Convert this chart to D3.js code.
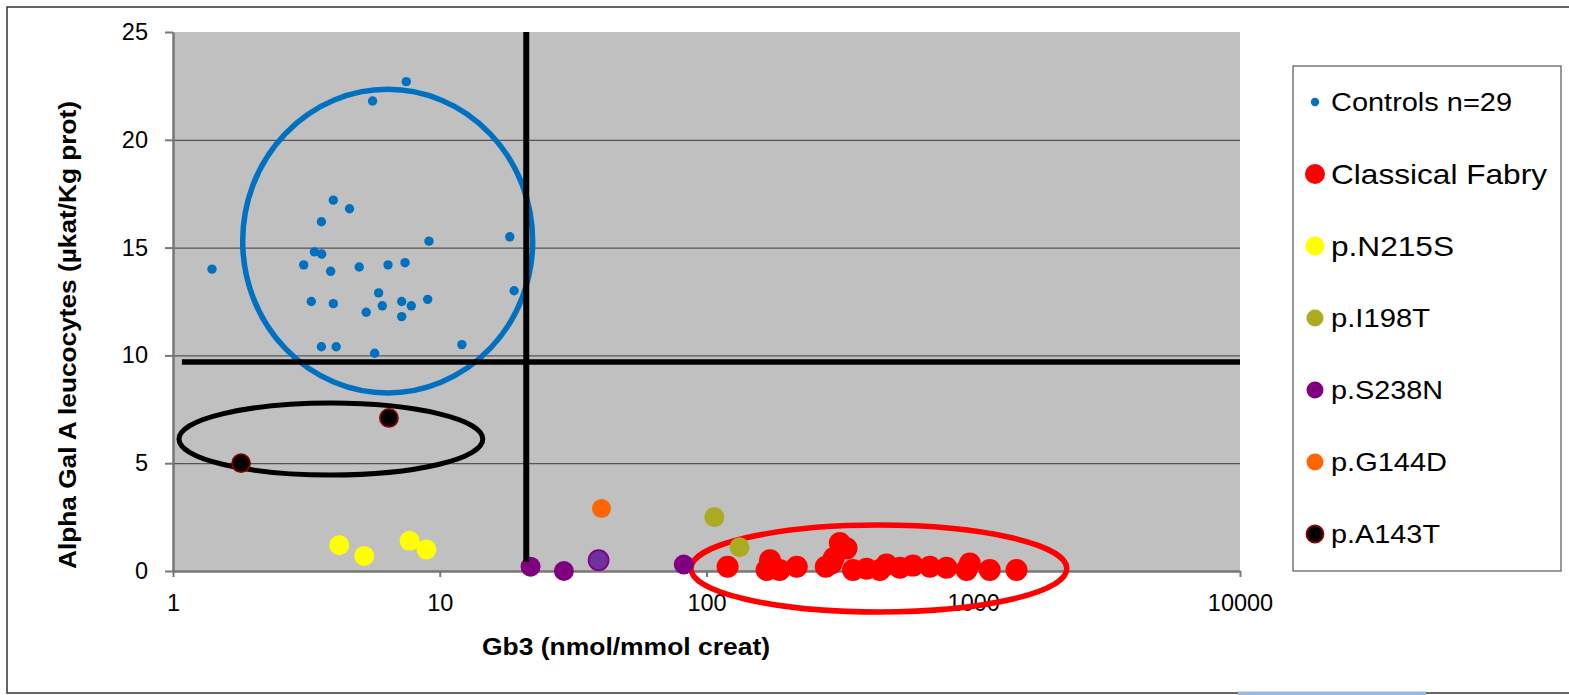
<!DOCTYPE html>
<html>
<head>
<meta charset="utf-8">
<script src="https://cdn.jsdelivr.net/npm/d3@7"></script>
<style>
body { margin: 0; background: #fff; }
text { font-family: Arial, "Liberation Sans", sans-serif; }
</style>
</head>
<body>
<div id="chart"></div>
<script>
// Gb3 (nmol/mmol creat) vs Alpha Gal A leucocytes, one array of [gb3, alpha] per group
let controls = [
    [7.49, 22.7], [5.60, 21.8], [3.99, 17.2], [4.59, 16.8], [3.60, 16.2],
    [9.11, 15.3], [18.3, 15.5], [3.39, 14.8], [3.61, 14.7], [1.40, 14.0],
    [3.09, 14.2], [3.90, 13.9], [4.99, 14.1], [6.40, 14.2], [7.41, 14.3],
    [19.0, 13.0], [5.90, 12.9], [3.30, 12.5], [3.99, 12.4], [5.30, 12.0],
    [6.09, 12.3], [7.20, 12.5], [7.82, 12.3], [9.01, 12.6], [7.20, 11.8],
    [3.60, 10.4], [4.09, 10.4], [5.70, 10.1], [12.1, 10.5]
];
let classical = [
    [120, 0.2], [168, 0.05], [173, 0.5], [188, 0.05], [218, 0.2], [280, 0.2],
    [294, 0.35], [300, 0.6], [316, 1.3], [335, 1.05], [354, 0.05], [398, 0.1],
    [447, 0.05], [473, 0.3], [531, 0.15], [594, 0.25], [688, 0.2], [794, 0.15],
    [944, 0.05], [971, 0.35], [1153, 0.05], [1453, 0.05]
];
let n215s = [[4.20, 1.2], [5.21, 0.7], [7.71, 1.4], [8.91, 1.0]];
let i198t = [[107, 2.5], [133, 1.1]];
let s238n = [[21.9, 0.2], [29.2, 0.0], [39.4, 0.5], [82.2, 0.3]];
let g144d = [[40.4, 2.9]];
let a143t = [[1.80, 5.0], [6.45, 7.1]];

let seriesNames = ["Controls n=29", "Classical Fabry", "p.N215S", "p.I198T", "p.S238N", "p.G144D", "p.A143T"];
let seriesData = [controls, classical, n215s, i198t, s238n, g144d, a143t];

let xTicks = [1, 10, 100, 1000, 10000];
let yTicks = [0, 5, 10, 15, 20, 25];

// cut-off lines: Gb3 ~21, alpha ~9.7
let vCut = {x: 21.1, y0: 0.43, y1: 25};
let hCut = {y: 9.69, x0: 1.08, x1: 10000};

// hand-drawn ellipses, given by their extents in data units
let ellipses = [
    {x: [1.825, 22.3], y: [8.26, 22.34], color: "#0070C0", w: 5.5},
    {x: [1.053, 14.5], y: [4.45, 7.79], color: "#000000", w: 5},
    {x: [87.4, 2243], y: [-1.90, 2.13], color: "#FF0000", w: 5.5}
];

// styles
let fills = ["#0070C0", "#FF0000", "#FFFF00", "#ABAB22", "#800080", "#FF6600", "#000000"];
let strokes = ["none", "none", "none", "none", "none", "none", "#8B0000"];
let dotR = [4.7, 11, 10, 10, 10, 9.5, 9];
let legendR = [4.2, 10, 9.5, 8.5, 8.5, 8.5, 8.5];
let legendSize = [26, 28.5, 28.5, 26, 26, 26, 26];
let legendLen = [181, 216, 123, 99, 112, 116, 109];

const W = 1569, H = 695;
const margin = {top: 32, left: 173, right: 1240, bottom: 571};

let svg = d3.select("#chart").append("svg")
    .attr("width", W)
    .attr("height", H);

// outer frame
svg.append("rect")
    .attr("x", 7).attr("y", 7)
    .attr("width", W + 10).attr("height", 686)
    .attr("fill", "#fff")
    .attr("stroke", "#333")
    .attr("stroke-width", 1.5);
svg.append("rect")
    .attr("x", 1238).attr("y", 691.5)
    .attr("width", 188).attr("height", 4)
    .attr("fill", "#9DB9E0");

let xScale = d3.scaleLog()
    .domain([1, 10000])
    .range([margin.left, margin.right]);
let yScale = d3.scaleLinear()
    .domain([0, 25])
    .range([margin.bottom, margin.top]);

// plot background
svg.append("rect")
    .attr("x", margin.left).attr("y", margin.top)
    .attr("width", margin.right - margin.left)
    .attr("height", margin.bottom - margin.top)
    .attr("fill", "#C0C0C0");

// gridlines
svg.append("g")
    .attr("transform", "translate(" + margin.left + ",0)")
    .call(d3.axisLeft(yScale).tickValues([5, 10, 15, 20]).tickSize(-(margin.right - margin.left)).tickFormat(""))
    .call(g => g.select(".domain").remove())
    .call(g => g.selectAll("line").attr("stroke", "#555").attr("stroke-width", 1.3));

// axes
let xAxis = svg.append("g")
    .attr("transform", "translate(0," + margin.bottom + ")")
    .call(d3.axisBottom(xScale).tickValues(xTicks).tickFormat(d3.format("d")).tickSize(6).tickPadding(17).tickSizeOuter(0));
let yAxis = svg.append("g")
    .attr("transform", "translate(" + margin.left + ",0)")
    .call(d3.axisLeft(yScale).tickValues(yTicks).tickSize(8).tickPadding(17).tickSizeOuter(0));

[xAxis, yAxis].forEach(a => {
    a.select(".domain").attr("stroke", "#777").attr("stroke-width", 2.5);
    a.selectAll(".tick line").attr("stroke", "#777").attr("stroke-width", 2);
    a.selectAll(".tick text").attr("font-size", 23.5).attr("fill", "#000")
        .style("font-family", "Arial, 'Liberation Sans', sans-serif");
});

// axis titles
svg.append("text")
    .attr("x", 626).attr("y", 655)
    .attr("text-anchor", "middle")
    .attr("font-size", 23)
    .attr("font-weight", "bold")
    .attr("textLength", 288)
    .attr("lengthAdjust", "spacingAndGlyphs")
    .text("Gb3 (nmol/mmol creat)");

svg.append("text")
    .attr("transform", "translate(76,335) rotate(-90)")
    .attr("text-anchor", "middle")
    .attr("font-size", 23)
    .attr("font-weight", "bold")
    .attr("textLength", 468)
    .attr("lengthAdjust", "spacingAndGlyphs")
    .text("Alpha Gal A leucocytes (µkat/Kg prot)");

// ellipses
svg.selectAll(".ring").data(ellipses).enter()
    .append("ellipse")
    .attr("class", "ring")
    .attr("cx", d => (xScale(d.x[0]) + xScale(d.x[1])) / 2)
    .attr("cy", d => (yScale(d.y[0]) + yScale(d.y[1])) / 2)
    .attr("rx", d => (xScale(d.x[1]) - xScale(d.x[0])) / 2)
    .attr("ry", d => (yScale(d.y[0]) - yScale(d.y[1])) / 2)
    .attr("fill", "none")
    .attr("stroke", d => d.color)
    .attr("stroke-width", d => d.w);

// dots
seriesData.forEach((pts, i) => {
    svg.append("g").selectAll("circle").data(pts).enter()
        .append("circle")
        .attr("cx", d => xScale(d[0]))
        .attr("cy", d => yScale(d[1]))
        .attr("r", dotR[i])
        .attr("fill", (d, j) => (i === 4 && j === 2) ? "#7030A0" : fills[i])
        .attr("stroke", (d, j) => (i === 4 && j === 2) ? "#800080" : strokes[i])
        .attr("stroke-width", 1.8);
});

// cut-off lines
svg.append("line")
    .attr("x1", xScale(vCut.x)).attr("x2", xScale(vCut.x))
    .attr("y1", yScale(vCut.y1)).attr("y2", yScale(vCut.y0))
    .attr("stroke", "#000").attr("stroke-width", 6);
svg.append("line")
    .attr("x1", xScale(hCut.x0)).attr("x2", xScale(hCut.x1))
    .attr("y1", yScale(hCut.y)).attr("y2", yScale(hCut.y))
    .attr("stroke", "#000").attr("stroke-width", 5.5);

// legend
let legend = svg.append("g");
legend.append("rect")
    .attr("x", 1293).attr("y", 66)
    .attr("width", 268).attr("height", 505)
    .attr("fill", "#fff")
    .attr("stroke", "#555")
    .attr("stroke-width", 1.2);

let items = legend.selectAll(".item").data(seriesNames).enter()
    .append("g")
    .attr("class", "item")
    .attr("transform", (d, i) => "translate(1315," + (102 + i * 72) + ")");
items.append("circle")
    .attr("r", (d, i) => legendR[i])
    .attr("fill", (d, i) => fills[i])
    .attr("stroke", (d, i) => strokes[i])
    .attr("stroke-width", 1.8);
items.append("text")
    .attr("x", 16)
    .attr("dy", "0.36em")
    .attr("font-size", (d, i) => legendSize[i])
    .attr("textLength", (d, i) => legendLen[i])
    .attr("lengthAdjust", "spacingAndGlyphs")
    .text(d => d);
</script>
</body>
</html>
